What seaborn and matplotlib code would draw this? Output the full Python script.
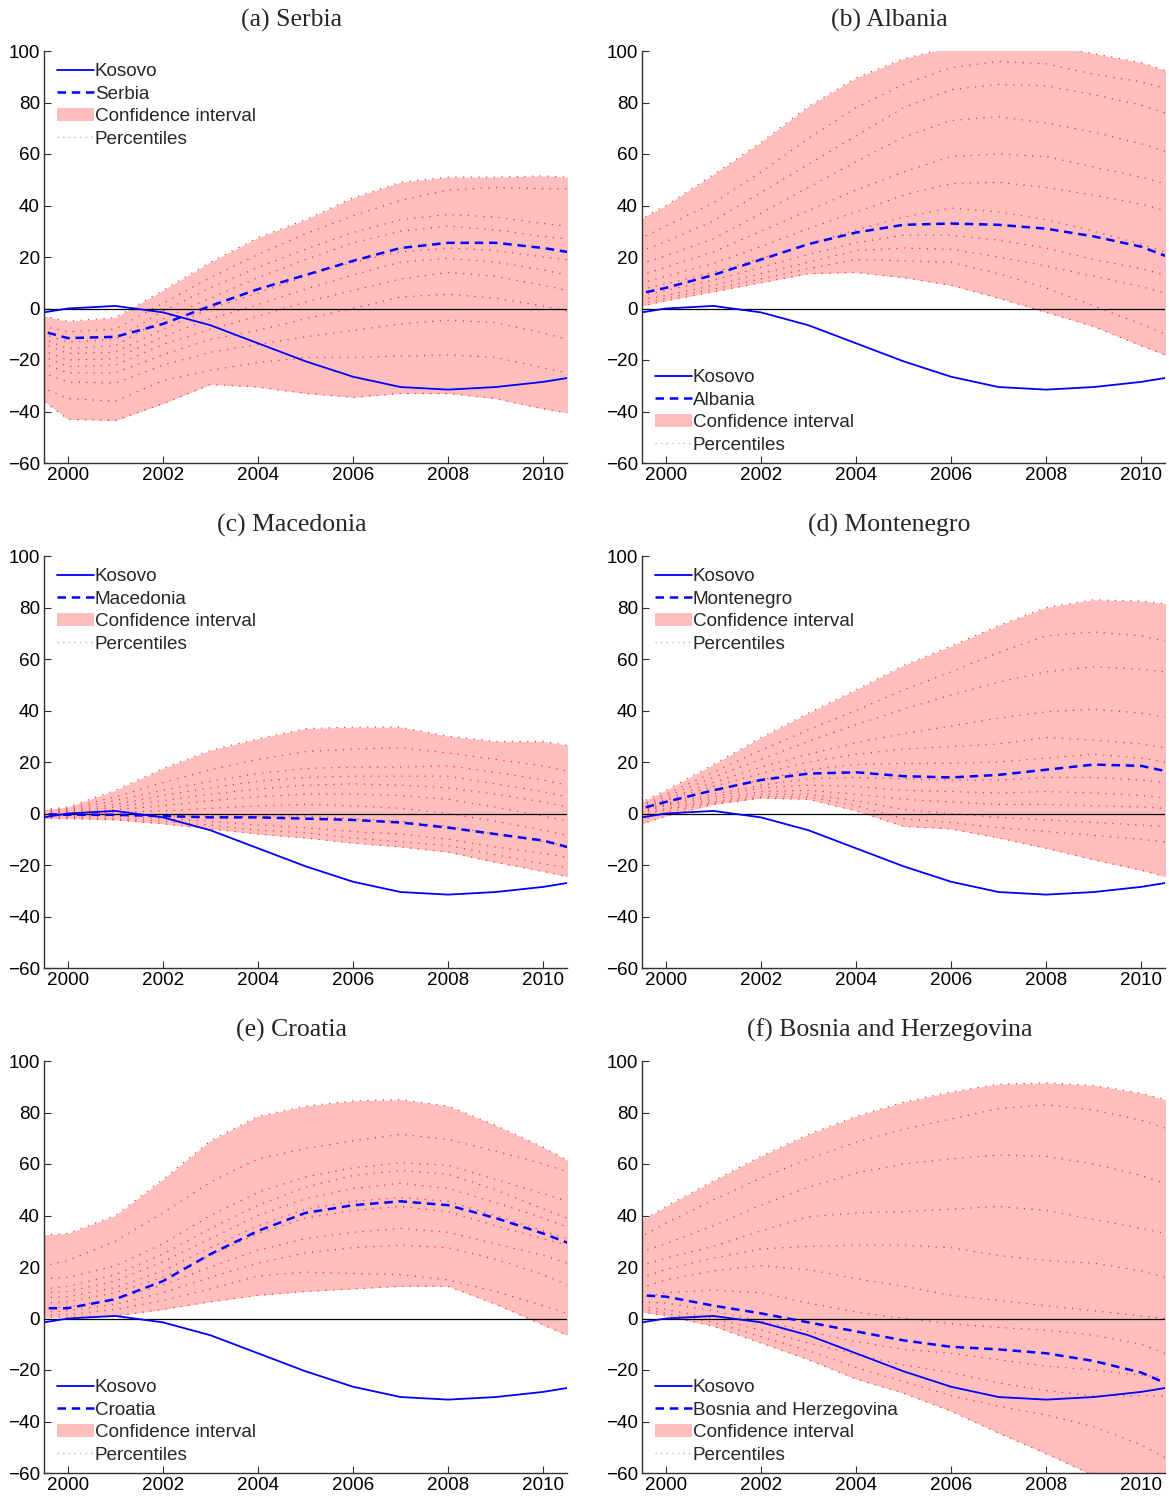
import matplotlib
matplotlib.use("Agg")
import matplotlib.pyplot as plt
import seaborn as sns
from matplotlib.lines import Line2D
from matplotlib.patches import Patch

# ---------------------------------------------------------------- data
years = list(range(1999, 2012))

kosovo = [-3, 0, 1, -1.5, -6.5, -13.5, -20.5, -26.5, -30.5, -31.5, -30.5, -28.5, -25.5]

serbia = [-6.5, -11.5, -11, -6, 1, 7.5, 13, 18.5, 23.5, 25.5, 25.5, 23.5, 20.5]
serbia_pct = [
    [-1, -5, -3.5, 7, 18, 27.5, 34.5, 43, 49, 51, 51, 51.5, 50.5],
    [-5, -9, -8, 2, 12, 21, 29, 36, 42, 46, 47, 46.5, 46.5],
    [-7, -13, -12, -1, 8, 16, 23, 29.5, 34.5, 36.5, 35.5, 33, 31],
    [-8.5, -15.5, -14.5, -4, 4, 12, 19, 25.5, 30, 32, 30.5, 28, 26],
    [-10, -17.5, -17, -8, 0, 6, 12.5, 18, 22, 23.5, 22.5, 20, 18],
    [-13, -20, -19.5, -11, -4, 1.5, 7.5, 13, 18, 19.5, 18, 15, 11],
    [-15, -22.5, -22, -14, -8, -3, 2.5, 7, 11.5, 14, 12.5, 9, 5],
    [-18, -25, -25, -18, -12, -8.5, -4, 0, 4.5, 5.5, 4, 1, -3],
    [-22, -28.5, -29, -22, -17, -14, -11, -8.5, -6, -4.5, -5.5, -9.5, -14.5],
    [-27, -35, -36, -28, -24, -21, -19, -19, -18.5, -18, -19, -23, -27],
    [-29, -43, -43.5, -37, -29.5, -30.5, -33, -34.5, -33, -33, -35, -39, -42],
]

albania = [4, 8, 13, 19, 25, 29.5, 32.5, 33, 32.5, 31, 28, 24, 17]
albania_pct = [
    [30, 40, 52, 64.5, 78.5, 89.5, 97, 101.5, 103, 102.5, 99, 95.5, 89.5],
    [23, 32, 41, 53, 66, 78, 87, 93.5, 96, 95, 91, 88, 83],
    [19, 26, 34, 45, 56, 67, 78, 85, 87, 86.5, 83, 79, 73],
    [14.5, 20.5, 27, 37, 47, 57, 66.5, 73, 74.5, 72, 68.5, 64, 58],
    [10, 16, 22, 30, 38, 46, 53, 59, 60, 59, 55, 51, 46],
    [7.5, 12.5, 17.5, 24, 31, 37.5, 44, 48.5, 49, 47, 44, 40.5, 35.5],
    [5.5, 9.5, 14, 19.5, 25, 30.5, 35.5, 39, 37.5, 34.5, 30, 25, 19],
    [3, 7, 11, 16, 21, 25.5, 28.5, 28.5, 26.5, 23.5, 19, 15.5, 10.5],
    [2, 5, 9, 13.5, 18, 22.5, 23.5, 23, 20, 16.5, 12.5, 8.5, 3.5],
    [0, 4, 7.5, 11.5, 15.5, 19, 18.5, 18, 13.5, 8, 1, -6, -14],
    [-1, 3, 6.5, 10, 13.5, 14, 12, 9, 4, -1.5, -7, -14.5, -21.5],
]

macedonia = [0, -0.5, -0.5, -1, -1.5, -1.5, -2, -2.5, -3.5, -5.5, -8, -10.5, -15.5]
macedonia_pct = [
    [0.5, 2.5, 9, 17.5, 24.5, 29, 33, 33.5, 33.5, 30, 28, 28, 25],
    [0, 2, 6.5, 12, 17, 21, 24, 25, 25.5, 23.5, 21, 18.5, 14.5],
    [0, 1.5, 5, 9, 12.5, 15.5, 17.5, 18, 18, 18.5, 16, 13, 9],
    [0, 1, 3.5, 7, 10, 12.5, 14, 14.5, 14.5, 14.5, 11.5, 8.5, 4.5],
    [-0.1, 0.7, 2.5, 5, 7.5, 9.5, 11, 11.5, 11, 10, 7.5, 4.5, 0.5],
    [-0.3, 0.3, 1.5, 3, 5, 6.5, 7.5, 7.5, 7, 5.5, 2.5, -1, -5],
    [-0.6, 0, 0.5, 1, 2, 3, 3.5, 3, 2, 0, -3, -6.5, -10.5],
    [-0.9, -0.5, -0.5, -1, -1, -1, -1, -2, -3, -5, -8, -11, -14],
    [-1, -1, -1, -2, -3, -4.5, -5.5, -7, -8, -10, -13, -15.5, -18.5],
    [-1.5, -1.5, -2, -3, -4.5, -6.5, -7.5, -9.5, -11, -12.5, -16, -19.5, -22.5],
    [-2, -2, -2.5, -4, -6, -8, -9.5, -11.5, -13, -15, -19, -22.5, -26.5],
]

montenegro = [-0.5, 4.5, 9, 13, 15.5, 16, 14.5, 14, 15, 17, 19, 18.5, 14.5]
montenegro_pct = [
    [0, 9, 19, 29.5, 39, 48, 57.5, 65, 73, 80, 83, 82.5, 80.5],
    [-0.5, 7.5, 16, 24.5, 32.5, 40, 48, 55, 62.5, 69, 70.5, 69, 65],
    [-0.5, 6.5, 14, 21, 28, 34.5, 40.5, 46, 51, 55, 57, 56, 54],
    [-0.5, 5.5, 12, 18, 23, 27.5, 31, 34, 37, 39.5, 40.5, 39, 36],
    [-1, 5, 10.5, 15.5, 20, 23, 25, 26, 27, 29.5, 28.5, 27, 24],
    [-1, 4, 9, 13, 17, 19, 19.5, 19.5, 20, 21.5, 23, 21.5, 18.5],
    [-1.5, 3.5, 7.5, 11, 13.5, 14, 13.5, 13, 13, 14, 14, 13, 11],
    [-2, 3, 6.5, 10, 11, 10.5, 9, 8.5, 8, 8.5, 8, 7, 5],
    [-2, 2, 5.5, 8.5, 9, 7.5, 5.5, 4.5, 3.5, 3.5, 3, 2.5, 1.5],
    [-3.5, 1.5, 4.5, 7.5, 7.5, 5, 1.5, 0, -1.5, -2.5, -3.5, -4.5, -5.5],
    [-5.5, 0.5, 4, 6.5, 6.5, 3, -2, -3.5, -5.5, -7, -8.5, -10, -12],
    [-7, -1, 3.5, 6, 5.5, 1, -5, -6, -9.5, -13.5, -18, -22, -27],
]

croatia = [4, 4, 7.5, 14.5, 25, 34, 41, 44, 45.5, 44, 39, 33, 26]
croatia_pct = [
    [32, 33, 40, 54, 69, 78.5, 82.5, 84.5, 85, 82.5, 75, 66.5, 56.5],
    [18.5, 22.5, 30, 41, 53, 62, 66, 69, 71.5, 69.5, 65, 60, 54],
    [15, 16, 20.5, 29, 40, 49, 55, 58.5, 60.5, 59.5, 54, 48.5, 42.5],
    [10.5, 12.5, 17, 25, 35, 44, 51, 55.5, 57.5, 56, 50, 42.5, 35.5],
    [9.5, 10.5, 14.5, 22, 31, 40, 46.5, 50.5, 52.5, 50.5, 45, 39, 32],
    [7.5, 8.5, 12, 18.5, 27.5, 36, 42.5, 45.5, 47, 45.5, 40, 34, 28],
    [5.5, 6.5, 10, 16, 24.5, 33, 39, 42, 43.5, 41.5, 36, 31, 26],
    [3.5, 4.5, 7.5, 13, 20, 26.5, 31, 33.5, 35, 33.5, 29, 24.5, 18.5],
    [2, 3, 5.5, 10, 16, 21.5, 25.5, 27.5, 28.5, 27.5, 23, 17, 9],
    [1.5, 1.5, 3.5, 7, 11.5, 16.5, 18, 17.5, 17, 15, 10.5, 5, -1],
    [0.5, 0.5, 1, 3.5, 6.5, 9, 10.5, 11.5, 12.5, 12.5, 5.5, -2.5, -10.5],
]

bosnia = [9.5, 8.5, 5, 2, -1.5, -5, -8.5, -11, -12, -13.5, -16.5, -21, -29]
bosnia_pct = [
    [32.5, 43.5, 53.5, 63, 71.5, 78.5, 84, 88, 91, 91.5, 90.5, 87.5, 82.5],
    [27, 37, 46, 54.5, 62, 68.5, 73.5, 77.5, 81.5, 83, 81, 77, 71],
    [23, 29, 36, 44, 51, 56.5, 60, 62, 63.5, 63, 60, 55.5, 49.5],
    [17.5, 23.5, 28, 34, 39.5, 41, 41.5, 42.5, 43.5, 42, 38.5, 35, 31],
    [13, 19, 23.5, 27, 28, 28.5, 28.5, 27.5, 24.5, 22.5, 21.5, 18.5, 13.5],
    [9, 15, 18.5, 20.5, 19, 15.5, 12.5, 9, 7, 5, 3, 1, -1],
    [6, 10, 11, 10, 6, 2.5, 0, -2, -3.5, -4.5, -6.5, -10, -17],
    [7, 6, 3, -1, -5, -9, -12, -13.5, -16, -18.5, -20, -22, -24],
    [5.5, 3.5, 0, -4.5, -9.5, -14, -18, -21, -25, -28, -30, -30, -30],
    [5, 2, -1.5, -7, -12.5, -19, -24.5, -30, -34, -37.5, -42, -49, -59],
    [4, 1, -3, -9.5, -16, -23.5, -29, -36, -44.5, -52.5, -61, -69, -77],
]

panels = [
    ("(a) Serbia", "Serbia", serbia, serbia_pct, "upper left"),
    ("(b) Albania", "Albania", albania, albania_pct, "lower left"),
    ("(c) Macedonia", "Macedonia", macedonia, macedonia_pct, "upper left"),
    ("(d) Montenegro", "Montenegro", montenegro, montenegro_pct, "upper left"),
    ("(e) Croatia", "Croatia", croatia, croatia_pct, "lower left"),
    ("(f) Bosnia and Herzegovina", "Bosnia and Herzegovina", bosnia, bosnia_pct, "lower left"),
]

x_ticks = [2000, 2002, 2004, 2006, 2008, 2010]
y_ticks = [-60, -40, -20, 0, 20, 40, 60, 80, 100]

# ---------------------------------------------------------------- style
sns.set_style("ticks")
plt.rcParams["font.family"] = ["Liberation Sans", "DejaVu Sans"]
plt.rcParams["axes.unicode_minus"] = True

BLUE = "#0000ff"
BAND = "#ffbebe"
PCT = "#ff2a2a"
PCT_STYLE = (0, (1, 5.5))
DASH_STYLE = (0, (3.4, 2.3))
FS = 13.6

W, H = 1169, 1497
fig = plt.figure(figsize=(W / 100, H / 100), dpi=100)

col_left = [44, 642]
row_top = [51, 556, 1061]
ax_w, ax_h = 523, 412

for i, (title, name, series, pct, loc) in enumerate(panels):
    r, c = divmod(i, 2)
    left = col_left[c] / W
    bottom = 1 - (row_top[r] + ax_h) / H
    ax = fig.add_axes([left, bottom, ax_w / W, ax_h / H])

    ax.fill_between(years, pct[0], pct[-1], color=BAND, lw=0, zorder=1)
    for p in pct:
        sns.lineplot(x=years, y=p, ax=ax, color=PCT, lw=0.85,
                     linestyle=PCT_STYLE, zorder=2)
    ax.axhline(0, color="black", lw=0.9, zorder=3)
    sns.lineplot(x=years, y=kosovo, ax=ax, color=BLUE, lw=1.3, zorder=4)
    sns.lineplot(x=years, y=series, ax=ax, color=BLUE, lw=1.8,
                 linestyle=DASH_STYLE, zorder=5)

    ax.set_xlim(1999.5, 2010.5)
    ax.set_ylim(-60, 100)
    ax.set_xticks(x_ticks)
    ax.set_yticks(y_ticks)
    ax.set_xlabel("")
    ax.set_ylabel("")
    ax.tick_params(direction="in", length=5, width=0.8, labelsize=FS,
                   colors="#303030", labelcolor="black", pad=3)
    for s in ("top", "right"):
        ax.spines[s].set_visible(False)
    for s in ("left", "bottom"):
        ax.spines[s].set_color("#303030")
        ax.spines[s].set_linewidth(1.0)

    ax.set_title(title, fontsize=18.5, family=["Liberation Serif", "DejaVu Serif"],
                 x=0.5 - 14 / ax_w, pad=17.5)

    handles = [
        Line2D([], [], color=BLUE, lw=1.3),
        Line2D([], [], color=BLUE, lw=1.8, linestyle=DASH_STYLE),
        Patch(facecolor=BAND, edgecolor="none"),
        Line2D([], [], color="#ff8c8c", lw=0.9, linestyle=(0, (1, 3.5))),
    ]
    labels = ["Kosovo", name, "Confidence interval", "Percentiles"]
    anchor = (0, 1.003) if loc == "upper left" else (0, -0.01)
    ax.legend(handles, labels, loc=loc, bbox_to_anchor=anchor, frameon=False,
              fontsize=FS, handlelength=1.95, handletextpad=0.05,
              labelspacing=0.28, borderaxespad=0.3, borderpad=0.4)

fig.savefig("out.png", dpi=100)
